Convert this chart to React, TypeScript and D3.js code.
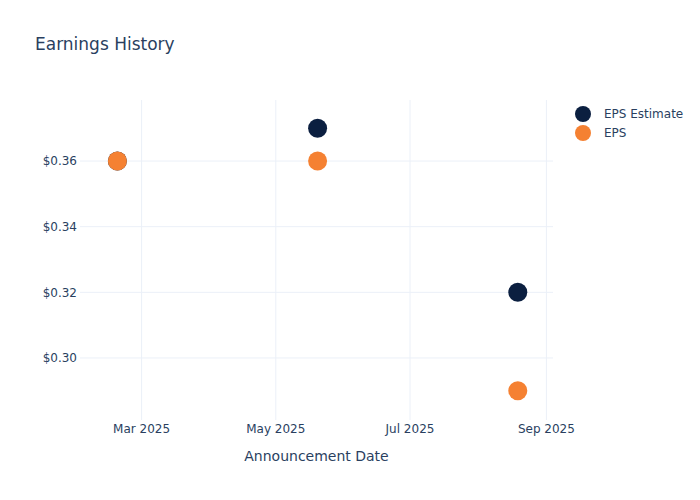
import React from "react";
import * as d3 from "d3";

const dates = ["2025-02-18", "2025-05-20", "2025-08-19"];
const epsEstimate = [0.36, 0.37, 0.32];
const epsActual = [0.36, 0.36, 0.29];
const xTicks = ["2025-03-01", "2025-05-01", "2025-07-01", "2025-09-01"];
const yTicks = [0.30, 0.32, 0.34, 0.36];
const seriesNames = ["EPS Estimate", "EPS"];
const seriesColors = ["#0b1f40", "#f58132"];

const W = 700, H = 500;
const M = { l: 80, r: 147, t: 100, b: 80 };
const FONT = "'DejaVu Sans', Verdana, sans-serif";
const TXT = "#2a3f5f";

export default function App() {
  const parse = d3.utcParse("%Y-%m-%d");
  const x = d3
    .scaleUtc()
    .domain([parse("2025-02-01")!, parse("2025-09-04")!])
    .range([M.l, W - M.r]);
  const y = d3.scaleLinear().domain([0.2811, 0.3786]).range([H - M.b, M.t]);
  const fmtX = d3.utcFormat("%b %Y");
  const series = [epsEstimate, epsActual];

  return (
    <svg width={W} height={H} style={{ position: "absolute", left: 0, top: 0, background: "#fff" }} fontFamily={FONT}>
      <text x={35} y={50} fontSize={17} fill={TXT}>Earnings History</text>
      {xTicks.map((t) => {
        const xx = x(parse(t)!);
        return (
          <g key={t}>
            <line x1={xx} x2={xx} y1={M.t} y2={H - M.b} stroke="#ebf0f8" />
            <text x={xx} y={433} textAnchor="middle" fontSize={12} fill={TXT}>{fmtX(parse(t)!)}</text>
          </g>
        );
      })}
      {yTicks.map((t) => (
        <g key={t}>
          <line x1={M.l} x2={W - M.r} y1={y(t)} y2={y(t)} stroke="#ebf0f8" />
          <text x={M.l - 3} y={y(t)} dy="0.35em" textAnchor="end" fontSize={12} fill={TXT}>{"$" + t.toFixed(2)}</text>
        </g>
      ))}
      <text x={(M.l + W - M.r) / 2} y={461} textAnchor="middle" fontSize={14} fill={TXT}>Announcement Date</text>
      {series.map((vals, si) =>
        vals.map((v, i) => (
          <circle key={si + "-" + i} cx={x(parse(dates[i])!)} cy={y(v)} r={9.5} fill={seriesColors[si]} />
        ))
      )}
      {seriesNames.map((n, i) => (
        <g key={n} transform={`translate(583, ${114 + i * 19})`}>
          <circle r={8} fill={seriesColors[i]} />
          <text x={21} dy="0.35em" fontSize={12} fill={TXT}>{n}</text>
        </g>
      ))}
    </svg>
  );
}
